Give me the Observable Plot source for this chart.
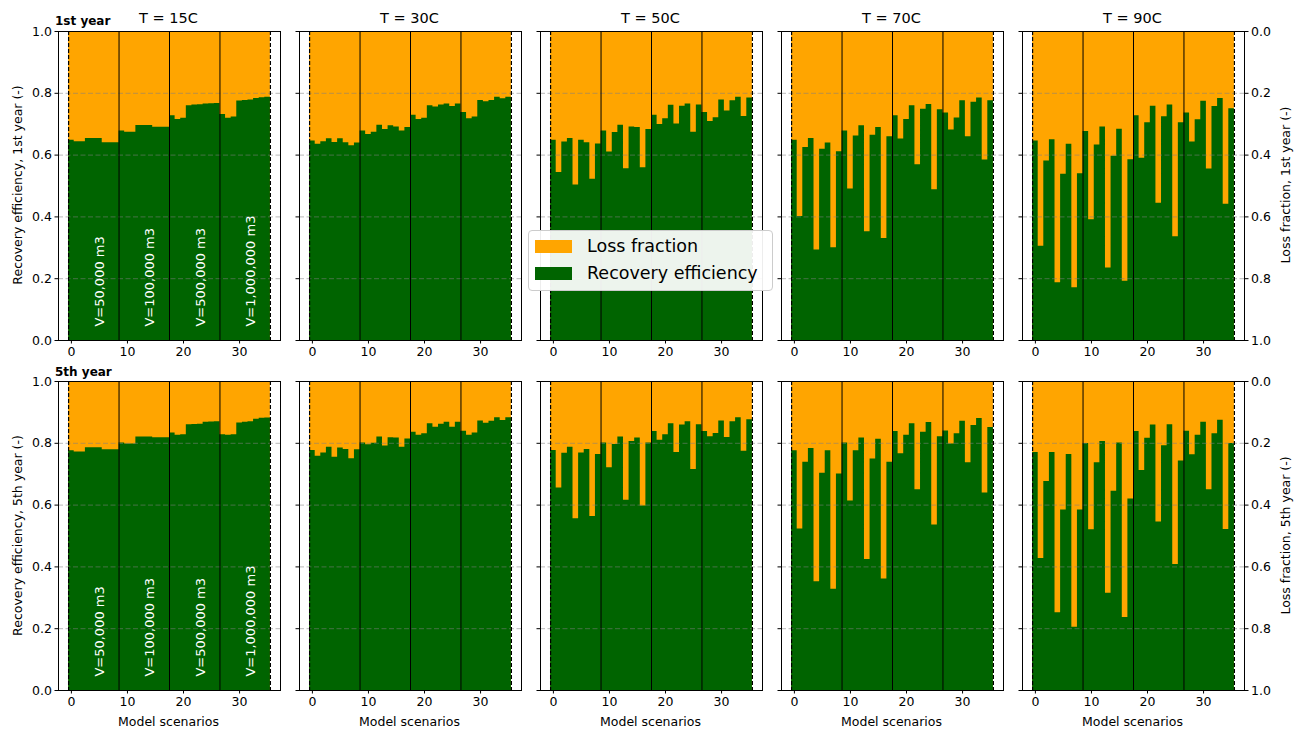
<!DOCTYPE html>
<html><head><meta charset="utf-8">
<script src="https://cdn.jsdelivr.net/npm/d3@7"></script>
<script src="https://cdn.jsdelivr.net/npm/@observablehq/plot@0.6"></script>
<style>
body{margin:0;background:#fff;}
#chart{position:relative;width:1298px;height:730px;overflow:hidden;font-family:"DejaVu Sans",sans-serif;}
.panel{position:absolute;}
#overlay{position:absolute;left:0;top:0;pointer-events:none;}
#legend{position:absolute;left:528px;top:230px;width:243px;height:59px;border:1px solid #cccccc;border-radius:4px;background:rgba(255,255,255,0.93);font-family:"DejaVu Sans",sans-serif;font-size:17.5px;color:#000;}
#legend .item{position:absolute;left:6px;height:20px;display:flex;align-items:center;}
#legend .sw{width:37px;height:13px;margin-right:15px;}
</style></head><body><div id="chart"></div>
<script>
// ---------- data ----------
const temperatures = ["T = 15C", "T = 30C", "T = 50C", "T = 70C", "T = 90C"];
const years = ["1st year", "5th year"];
const xTicks = [0, 10, 20, 30];
const yTicks = [0, 0.2, 0.4, 0.6, 0.8, 1.0];
const groupSeparators = [8.5, 17.5, 26.5];
const groupEdges = [-0.5, 35.5];
const volumeLabels = ["V=50,000 m3", "V=100,000 m3", "V=500,000 m3", "V=1,000,000 m3"];
const volumeLabelX = [5, 14, 23, 32];

// recovery efficiency, 1st year
const effY1T15 = [0.648,0.643,0.643,0.654,0.654,0.654,0.640,0.640,0.640, 0.678,0.674,0.674,0.696,0.696,0.696,0.690,0.690,0.690, 0.727,0.715,0.719,0.760,0.762,0.763,0.765,0.766,0.767, 0.731,0.719,0.723,0.775,0.777,0.778,0.783,0.786,0.787];
const effY1T30 = [0.646,0.635,0.643,0.653,0.641,0.653,0.640,0.630,0.639, 0.678,0.667,0.674,0.697,0.683,0.695,0.691,0.678,0.689, 0.729,0.715,0.719,0.760,0.756,0.762,0.765,0.757,0.765, 0.738,0.718,0.723,0.777,0.773,0.777,0.787,0.782,0.787];
const effY1T50 = [0.648,0.544,0.642,0.654,0.503,0.648,0.640,0.522,0.636, 0.678,0.610,0.673,0.697,0.556,0.691,0.689,0.559,0.683, 0.729,0.699,0.718,0.761,0.701,0.758,0.765,0.674,0.762, 0.738,0.709,0.721,0.778,0.743,0.776,0.787,0.725,0.785];
const effY1T70 = [0.648,0.401,0.625,0.654,0.293,0.619,0.639,0.300,0.611, 0.678,0.490,0.662,0.695,0.352,0.664,0.689,0.330,0.659, 0.727,0.652,0.715,0.760,0.569,0.748,0.764,0.488,0.747, 0.736,0.681,0.720,0.776,0.659,0.771,0.785,0.584,0.776];
const effY1T90 = [0.646,0.305,0.581,0.650,0.187,0.538,0.635,0.171,0.540, 0.676,0.391,0.633,0.691,0.235,0.596,0.684,0.192,0.585, 0.727,0.590,0.705,0.758,0.444,0.724,0.762,0.336,0.705, 0.736,0.642,0.714,0.774,0.555,0.757,0.783,0.441,0.750];

// recovery efficiency, 5th year
const effY5T15 = [0.776,0.772,0.772,0.786,0.786,0.786,0.779,0.779,0.779, 0.801,0.798,0.798,0.820,0.820,0.820,0.818,0.818,0.818, 0.833,0.826,0.828,0.860,0.861,0.862,0.868,0.869,0.870, 0.828,0.826,0.828,0.866,0.868,0.870,0.878,0.881,0.882];
const effY5T30 = [0.777,0.758,0.769,0.787,0.755,0.785,0.780,0.750,0.779, 0.801,0.795,0.800,0.820,0.791,0.818,0.817,0.787,0.814, 0.836,0.826,0.831,0.863,0.852,0.862,0.868,0.852,0.868, 0.839,0.826,0.833,0.872,0.865,0.871,0.883,0.874,0.883];
const effY5T50 = [0.777,0.655,0.768,0.787,0.556,0.769,0.780,0.563,0.764, 0.801,0.721,0.796,0.820,0.616,0.806,0.817,0.597,0.801, 0.838,0.810,0.828,0.863,0.770,0.859,0.870,0.715,0.860, 0.838,0.821,0.832,0.872,0.819,0.870,0.883,0.774,0.876];
const effY5T70 = [0.776,0.523,0.739,0.783,0.352,0.703,0.776,0.328,0.701, 0.801,0.613,0.776,0.817,0.424,0.749,0.813,0.361,0.739, 0.838,0.766,0.826,0.863,0.650,0.836,0.867,0.536,0.821, 0.840,0.798,0.831,0.871,0.737,0.858,0.880,0.639,0.851];
const effY5T90 = [0.770,0.427,0.676,0.770,0.252,0.584,0.764,0.205,0.584, 0.799,0.520,0.737,0.806,0.315,0.645,0.801,0.236,0.620, 0.838,0.712,0.816,0.859,0.545,0.792,0.860,0.408,0.743, 0.839,0.763,0.826,0.868,0.650,0.831,0.875,0.521,0.799];

const rows = [
  [effY1T15, effY1T30, effY1T50, effY1T70, effY1T90],
  [effY5T15, effY5T30, effY5T50, effY5T70, effY5T90]
];
const leftLabels = ["Recovery efficiency, 1st year (-)", "Recovery efficiency, 5th year (-)"];
const rightLabels = ["Loss fraction, 1st year (-)", "Loss fraction, 5th year (-)"];

// ---------- layout ----------
const colLeft = [57.5, 298.5, 539.5, 780.5, 1021.5];
const rowTop = [30.5, 381];
const PW = 222, PH = 309;
const ML = 45, MR = 45, MT = 10, MB = 28;
const ORANGE = "#FFA500", GREEN = "#006400";

const chart = document.getElementById("chart");

function makePanel(values, col, row) {
  // step outline of the bars: each bar spans [i-0.5, i+0.5]
  const steps = values.map((v, i) => ({x: i - 0.5, v}));
  steps.push({x: values.length - 0.5, v: values[values.length - 1]});
  const marks = [
    Plot.rect([groupEdges], {x1: d => d[0], x2: d => d[1], y1: () => 0, y2: () => 1, fill: ORANGE}),
    Plot.areaY(steps, {x: "x", y: "v", curve: "step-after", fill: GREEN}),
    Plot.ruleY(yTicks.slice(1, 5), {stroke: "#808080", strokeOpacity: 0.55, strokeDasharray: "5,2.5", strokeWidth: 1}),
    Plot.ruleX(groupSeparators, {stroke: "black", strokeWidth: 1}),
    Plot.ruleX(groupEdges, {stroke: "black", strokeDasharray: "4,2", strokeWidth: 1.2}),
    Plot.frame({stroke: "black", strokeWidth: 1}),
    Plot.axisX({ticks: xTicks, tickSize: 3.5, tickPadding: 3, label: null, tickFormat: d => String(d)}),
    Plot.axisY({ticks: yTicks, tickSize: 3.5, tickPadding: 3, label: null,
      tickFormat: col === 0 ? (d => d.toFixed(1)) : (() => "")})
  ];
  if (col === 4) {
    marks.push(Plot.axisY({anchor: "right", ticks: yTicks, tickSize: 3.5, tickPadding: 3, label: null,
      tickFormat: d => (1 - d).toFixed(1)}));
  }
  if (col === 0) {
    marks.push(Plot.text(volumeLabels, {x: (d, i) => volumeLabelX[i], y: () => 0.045, text: d => d,
      rotate: -90, textAnchor: "start", fill: "white", fontSize: 13}));
  }
  const svg = Plot.plot({
    width: ML + PW + MR, height: MT + PH + MB,
    marginLeft: ML, marginRight: MR, marginTop: MT, marginBottom: MB,
    x: {domain: [-2.3, 37.3], axis: null},
    y: {domain: [0, 1], axis: null},
    style: {background: "transparent", fontFamily: "DejaVu Sans", fontSize: "12.5px", overflow: "visible", color: "black"},
    marks
  });
  const div = document.createElement("div");
  div.className = "panel";
  div.style.left = (colLeft[col] - ML) + "px";
  div.style.top = (rowTop[row] - MT) + "px";
  div.appendChild(svg);
  chart.appendChild(div);
}

rows.forEach((r, ri) => r.forEach((vals, ci) => makePanel(vals, ci, ri)));

// ---------- text overlay ----------
const ov = d3.select(chart).append("svg").attr("id", "overlay")
  .attr("width", 1298).attr("height", 730)
  .style("font-family", "DejaVu Sans");

ov.selectAll("text.title").data(temperatures).join("text")
  .attr("x", (d, i) => colLeft[i] + PW / 2).attr("y", 22.5)
  .attr("text-anchor", "middle").attr("font-size", 14.5).text(d => d);

ov.selectAll("text.year").data(years).join("text")
  .attr("x", 55).attr("y", (d, i) => rowTop[i] - 5.5)
  .attr("font-size", 12).attr("font-weight", "bold").text(d => d);

ov.selectAll("text.ylab").data(leftLabels).join("text")
  .attr("transform", (d, i) => `translate(17,${rowTop[i] + PH / 2}) rotate(-90)`)
  .attr("text-anchor", "middle").attr("dominant-baseline", "central")
  .attr("font-size", 12.5).text(d => d);

ov.selectAll("text.rlab").data(rightLabels).join("text")
  .attr("transform", (d, i) => `translate(1285,${rowTop[i] + PH / 2}) rotate(-90)`)
  .attr("text-anchor", "middle").attr("dominant-baseline", "central")
  .attr("font-size", 12.5).text(d => d);

ov.selectAll("text.xlab").data(temperatures).join("text")
  .attr("x", (d, i) => colLeft[i] + PW / 2).attr("y", 726)
  .attr("text-anchor", "middle").attr("font-size", 12.5).text("Model scenarios");

// ---------- legend ----------
const legendItems = [["Loss fraction", ORANGE], ["Recovery efficiency", GREEN]];
const lg = document.createElement("div");
lg.id = "legend";
legendItems.forEach(([label, color], i) => {
  const it = document.createElement("div");
  it.className = "item";
  it.style.top = (5 + i * 27) + "px";
  const sw = document.createElement("div");
  sw.className = "sw"; sw.style.background = color;
  const tx = document.createElement("span");
  tx.textContent = label;
  it.appendChild(sw); it.appendChild(tx);
  lg.appendChild(it);
});
chart.appendChild(lg);
</script></body></html>
